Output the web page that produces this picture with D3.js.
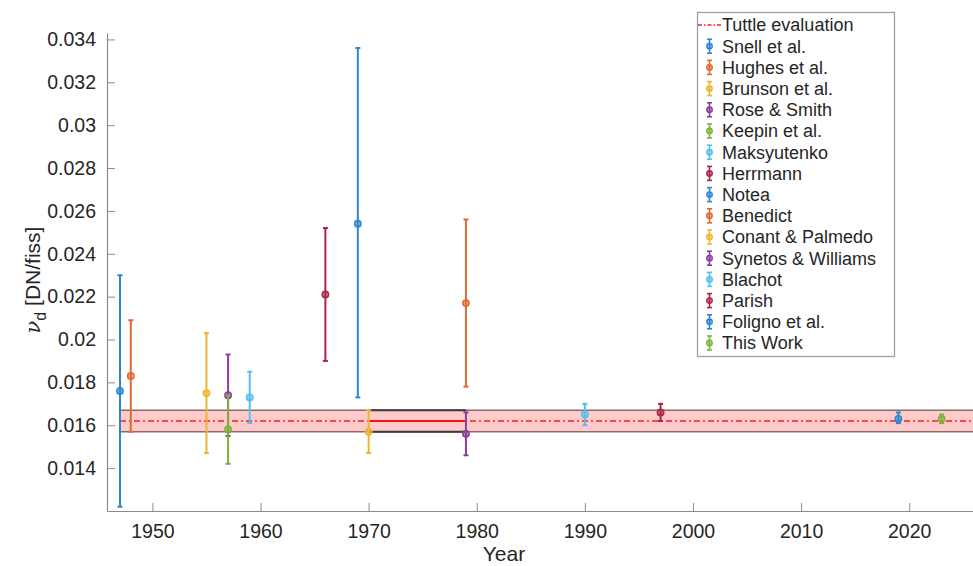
<!DOCTYPE html>
<html><head><meta charset="utf-8">
<script src="https://cdn.jsdelivr.net/npm/d3@7"></script>
<style>
body{margin:0;background:#fff;}
svg{font-family:"Liberation Sans",Arial,Helvetica,sans-serif;}
</style></head>
<body><svg id="c" width="973" height="566"></svg>
<script>
// ---- data ----
const names  = ["Snell et al.","Hughes et al.","Brunson et al.","Rose & Smith","Keepin et al.","Maksyutenko","Herrmann","Notea","Benedict","Conant & Palmedo","Synetos & Williams","Blachot","Parish","Foligno et al.","This Work"];
const years  = [1947,1948,1955,1957,1957,1959,1966,1969,1979,1970,1979,1990,1997,2019,2023];
const values = [0.0176,0.0183,0.0175,0.0174,0.0158,0.0173,0.0221,0.0254,0.0217,0.0157,0.0156,0.0165,0.0166,0.0163,0.0163];
const lowers = [0.0122,0.0157,0.0147,0.0155,0.0142,0.0161,0.0190,0.0173,0.0178,0.0147,0.0146,0.0160,0.0162,0.0161,0.0161];
const uppers = [0.0230,0.0209,0.0203,0.0193,0.0174,0.0185,0.0252,0.0336,0.0256,0.0167,0.0166,0.0170,0.0170,0.0166,0.0165];
const colors = ["#2f86cf","#e06a30","#efb532","#8a3f98","#7cb23a","#55c0ee","#ad2546","#2f86cf","#e06a30","#efb532","#8a3f98","#55c0ee","#ad2546","#2f86cf","#7cb23a"];
const tuttleValue = 0.0162, tuttleLow = 0.0157, tuttleHigh = 0.0167;
const tuttleYears = [1947, 2026];
const boxYears = [1970, 1979];
const xTicks = [1950,1960,1970,1980,1990,2000,2010,2020];
const yTicks = [0.014,0.016,0.018,0.02,0.022,0.024,0.026,0.028,0.03,0.032,0.034];
const yTickLabels = ["0.014","0.016","0.018","0.02","0.022","0.024","0.026","0.028","0.03","0.032","0.034"];

// ---- layout ----
const svg = d3.select("#c");
const L = 107, R = 973, T = 33, B = 511;
const x = d3.scaleLinear().domain([1945.8, 2025.9]).range([L, R]);
const y = d3.scaleLinear().domain([0.012, 0.0343]).range([B, T]);
const axisCol = "#8c8c8c", textCol = "#262626";

const g = svg.append("g");
svg.append("clipPath").attr("id","pc").append("rect").attr("x",L).attr("y",T).attr("width",R-L).attr("height",B-T);
const pg = g.append("g").attr("clip-path","url(#pc)");

// Tuttle band
pg.append("rect").attr("x", x(tuttleYears[0])).attr("width", x(tuttleYears[1]) - x(tuttleYears[0]))
  .attr("y", y(tuttleHigh)).attr("height", y(tuttleLow) - y(tuttleHigh))
  .attr("fill", "#ffcaca");
[tuttleLow, tuttleHigh].forEach(v => {
  pg.append("line").attr("x1", x(tuttleYears[0])).attr("x2", x(tuttleYears[1]))
    .attr("y1", y(v)).attr("y2", y(v)).attr("stroke", "#8a6a6a").attr("stroke-width", 1.6);
});
pg.append("line").attr("x1", x(tuttleYears[0])).attr("x2", x(tuttleYears[1]))
  .attr("y1", y(tuttleValue)).attr("y2", y(tuttleValue))
  .attr("stroke", "#f02020").attr("stroke-width", 1.5).attr("stroke-dasharray", "6,3,2,3");
// box 1970-1979
[tuttleLow, tuttleHigh].forEach(v => {
  pg.append("line").attr("x1", x(boxYears[0])).attr("x2", x(boxYears[1]))
    .attr("y1", y(v)).attr("y2", y(v)).attr("stroke", "#3a3a3a").attr("stroke-width", 2);
});
pg.append("line").attr("x1", x(boxYears[0])).attr("x2", x(boxYears[1]))
  .attr("y1", y(tuttleValue)).attr("y2", y(tuttleValue)).attr("stroke", "#ff1010").attr("stroke-width", 2);

// error bars
const cap = 2.5;
names.forEach((n, i) => {
  const cx = x(years[i]);
  const eg = pg.append("g").attr("stroke", colors[i]);
  eg.append("line").attr("x1", cx).attr("x2", cx).attr("y1", y(lowers[i])).attr("y2", y(uppers[i])).attr("stroke-width", 2);
  [lowers[i], uppers[i]].forEach(v => eg.append("line").attr("x1", cx-cap).attr("x2", cx+cap).attr("y1", y(v)).attr("y2", y(v)).attr("stroke-width", 2));
  eg.append("circle").attr("cx", cx).attr("cy", y(values[i])).attr("r", 3.2)
    .attr("fill", colors[i]).attr("fill-opacity", 0.6).attr("stroke-width", 1.5);
});

// axes
const xAxis = d3.axisBottom(x).tickValues(xTicks).tickFormat(d3.format("d")).tickSizeInner(-8).tickSizeOuter(0).tickPadding(13);
const xa = g.append("g").attr("transform", `translate(0,${B})`).call(xAxis);
const yAxis = d3.axisLeft(y).tickValues(yTicks).tickFormat((d,i)=>yTickLabels[i]).tickSizeInner(-8).tickSizeOuter(0).tickPadding(11);
const ya = g.append("g").attr("transform", `translate(${L},0)`).call(yAxis);
[xa, ya].forEach(a => {
  a.select(".domain").attr("stroke", axisCol).attr("stroke-width", 1.2);
  a.selectAll(".tick line").attr("stroke", axisCol).attr("stroke-width", 1);
  a.selectAll(".tick text").attr("fill", textCol).attr("font-size", 19.5);
});

// axis labels
svg.append("text").attr("x", 504).attr("y", 561).attr("text-anchor", "middle")
  .attr("fill", textCol).attr("font-size", 21).text("Year");
const yl = svg.append("text").attr("transform", "translate(40,280) rotate(-90)").attr("text-anchor", "middle")
  .attr("fill", textCol).attr("font-size", 21);
yl.append("tspan").attr("font-family", "'DejaVu Serif',serif").attr("font-style", "italic").text("ν");
yl.append("tspan").attr("font-size", 16).attr("dy", 6).text("d");
yl.append("tspan").attr("dy", -6).text("\u00a0[DN/fiss]");

// legend
const lg = svg.append("g");
lg.append("rect").attr("x", 697.5).attr("y", 12.5).attr("width", 197).attr("height", 344)
  .attr("fill", "#fff").attr("stroke", "#a0a0a0").attr("stroke-width", 1.3);
const rowY = i => 25 + i * 21.2;
lg.append("line").attr("x1", 698).attr("x2", 721).attr("y1", rowY(0)).attr("y2", rowY(0))
  .attr("stroke", "#f02020").attr("stroke-width", 1.5).attr("stroke-dasharray", "4,2,1.5,2");
lg.append("text").attr("x", 722).attr("y", rowY(0)).attr("dy", "0.35em").attr("font-size", 18).attr("fill", textCol).text("Tuttle evaluation");
names.forEach((n, i) => {
  const yy = rowY(i + 1), cx = 709.5;
  const eg = lg.append("g").attr("stroke", colors[i]);
  eg.append("line").attr("x1", cx).attr("x2", cx).attr("y1", yy-7).attr("y2", yy+7).attr("stroke-width", 1.6);
  [yy-7, yy+7].forEach(v => eg.append("line").attr("x1", cx-2.5).attr("x2", cx+2.5).attr("y1", v).attr("y2", v).attr("stroke-width", 1.6));
  eg.append("circle").attr("cx", cx).attr("cy", yy).attr("r", 2.8).attr("fill", colors[i]).attr("fill-opacity", 0.6).attr("stroke-width", 1.3);
  lg.append("text").attr("x", 722).attr("y", yy).attr("dy", "0.35em").attr("font-size", 18).attr("fill", textCol).text(n);
});
</script></body></html>
